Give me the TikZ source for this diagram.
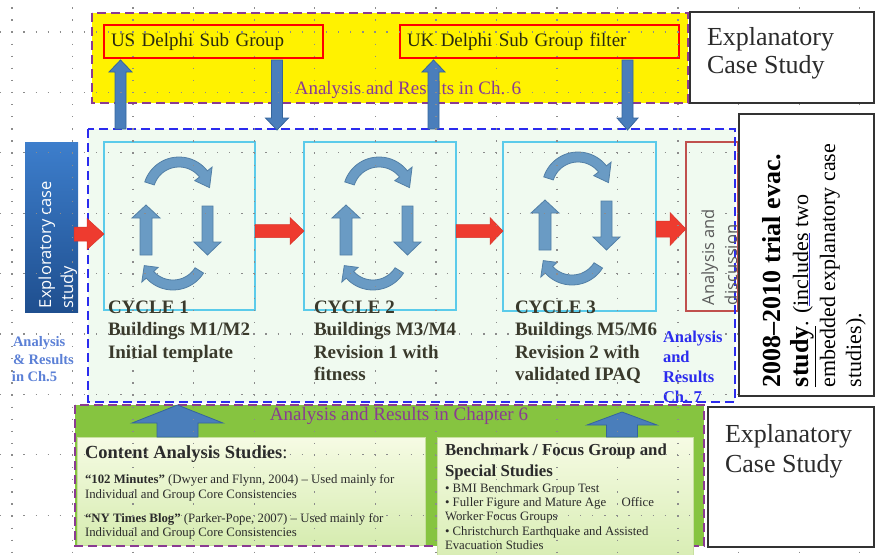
\documentclass[tikz,border=0pt]{standalone}
\usepackage{fontspec}
\setmainfont{Liberation Serif}
\newfontfamily\osans{Open Sans}
\usetikzlibrary{calc}

\definecolor{mint}{HTML}{F0FAF0}
\definecolor{dpurple}{HTML}{8A3B92}
\definecolor{dblue}{HTML}{2B2BEE}
\definecolor{olivetext}{HTML}{2A2A10}
\definecolor{cycborder}{HTML}{5BCBEA}
\definecolor{adred}{HTML}{C0504D}
\definecolor{grass}{HTML}{86C440}
\definecolor{litetop}{HTML}{F6FBE4}
\definecolor{litebot}{HTML}{D6ECB0}
\definecolor{liteedge}{HTML}{C8E0A0}
\definecolor{steelfill}{HTML}{4A7EBB}
\definecolor{steeledge}{HTML}{35659C}
\definecolor{arrred}{HTML}{EE3B2F}
\definecolor{arrrededge}{HTML}{D8342A}
\definecolor{cycfill}{HTML}{6A9BC4}
\definecolor{cycedge}{HTML}{527FA6}
\definecolor{gridgray}{HTML}{8C8C8C}
\definecolor{explTop}{HTML}{3D7ECC}
\definecolor{explBot}{HTML}{1F4F8F}
\definecolor{adgray}{HTML}{5A5A5A}
\definecolor{linkblue}{HTML}{3030E0}
\definecolor{ch5blue}{HTML}{5B80D6}
\definecolor{cyctext}{HTML}{3A3A2C}
\definecolor{boxtext}{HTML}{2B2B2B}

\newcommand\fsz[2]{\fontsize{#1}{#2}\selectfont}

% horizontal block arrow: style, tail, tip, shaft half width, head half width, head length
\newcommand\hblk[6]{\filldraw[#1] ($(#2)+(0,-#4)$) -- ($(#3)+(-#6,-#4)$) -- ($(#3)+(-#6,-#5)$) -- (#3)
  -- ($(#3)+(-#6,#5)$) -- ($(#3)+(-#6,#4)$) -- ($(#2)+(0,#4)$) -- cycle;}
% vertical block arrow: style, tail, tip, shaft half width, head half width, signed head length
\newcommand\vblk[6]{\filldraw[#1] ($(#2)+(-#4,0)$) -- ($(#3)+(-#4,#6)$) -- ($(#3)+(-#5,#6)$) -- (#3)
  -- ($(#3)+(#5,#6)$) -- ($(#3)+(#4,#6)$) -- ($(#2)+(#4,0)$) -- cycle;}
% curved arrow: cx, cy, mid radius, start angle, end angle, tip angle
\newcommand\ringarrow[6]{%
  \filldraw[cycarrow] plot[domain=#4:#5,samples=24] ({#1+(#3+5)*cos(\x)},{#2+(#3+5)*sin(\x)})
   -- ({#1+(#3+11)*cos(#5)},{#2+(#3+11)*sin(#5)})
   -- ({#1+#3*cos(#6)},{#2+#3*sin(#6)})
   -- ({#1+(#3-11)*cos(#5)},{#2+(#3-11)*sin(#5)})
   -- plot[domain=#5:#4,samples=24] ({#1+(#3-5)*cos(\x)},{#2+(#3-5)*sin(\x)}) -- cycle;}
% the four arrows of one cycle
\newcommand\cyclegroup{%
  \ringarrow{179}{193}{31}{198}{322}{350}
  \ringarrow{173}{254}{31}{32}{138}{158}
  \filldraw[cycarrow] (140,255) -- (140,218) -- (132,218) -- (146,205) -- (160,218) -- (152,218) -- (152,255) -- cycle;
  \filldraw[cycarrow] (202,206) -- (213,206) -- (213,242) -- (221,242) -- (207.5,255) -- (194,242) -- (202,242) -- cycle;
}

\begin{document}
\begin{tikzpicture}[x=1pt,y=-1pt,
  boxat/.style={inner sep=0pt,outer sep=0pt,anchor=north west},
  pdash/.style={draw=dpurple,line width=2.3pt,dash pattern=on 9pt off 5pt},
  bdash/.style={draw=dblue,line width=2.3pt,dash pattern=on 9pt off 5pt},
  redbox/.style={boxat,draw=red,line width=1.7pt,minimum height=33pt,inner xsep=7pt,align=left,text=olivetext,font=\fsz{19}{22}},
  cycbox/.style={boxat,draw=cycborder,line width=1.2pt,minimum height=168pt},
  whitebox/.style={boxat,draw=black!80,fill=white,line width=1.3pt},
  litebox/.style={boxat,draw=liteedge,line width=0.6pt,top color=litetop,bottom color=litebot},
  steel/.style={fill=steelfill,draw=steeledge,line width=0.8pt},
  redarr/.style={fill=arrred,draw=arrrededge,line width=0.5pt},
  cycarrow/.style={fill=cycfill,draw=cycedge,line width=0.8pt},
  txt/.style={inner sep=0pt,outer sep=0pt,anchor=base west},
  vtxt/.style={txt,rotate=90},
  griddots/.style={draw=gridgray,line width=1.3pt,dash pattern=on 1.3pt off 10.8pt},
]
\useasboundingbox (0,0) rectangle (875,554);

% main study frame
\node[boxat,fill=mint,minimum width=647pt,minimum height=273pt] (main) at (88,129) {};

% Delphi band
\node[boxat,fill=yellow,minimum width=596pt,minimum height=90pt] (ylw) at (92,13) {};
\draw[pdash] (ylw.north west) rectangle (ylw.south east);
\node[redbox,text width=205pt] (usg) at (104,25) {US Delphi Sub Group};
\node[redbox,text width=265pt] (ukg) at (400,25) {UK Delphi Sub Group filter};
\node[text=dpurple,font=\fsz{19}{22},inner sep=0pt] (res6) at (408,90) {Analysis and Results in Ch. 6};

% chapter 6 studies band
\node[boxat,fill=grass,minimum width=629pt,minimum height=141pt] (grn) at (75,405) {};
\node[litebox,minimum width=348pt,minimum height=108pt] (cas) at (77,437) {};
\draw[pdash] (grn.north west) rectangle (grn.south east);
\node[litebox,minimum width=256pt,minimum height=130pt] (bfs) at (437,437) {};
\node[text=dpurple,font=\fsz{19}{22},inner sep=0pt] (res6b) at (399,416) {Analysis and Results in Chapter 6};

% cycles
\node[cycbox,minimum width=151pt] (c1) at (104,142) {};
\node[cycbox,minimum width=152pt] (c2) at (304,142) {};
\node[cycbox,minimum width=153pt,minimum height=169pt] (c3) at (503,142) {};
\node[boxat,draw=adred,line width=1.3pt,minimum width=52pt,minimum height=169pt] (ad) at (686,142) {};
\draw[bdash] (main.north west) rectangle (main.south east);

\node[boxat,top color=explTop,bottom color=explBot,minimum width=53pt,minimum height=170pt] (expl) at (25,142) {};

\begin{scope}\cyclegroup\end{scope}
\begin{scope}[shift={(200,0)}]\cyclegroup\end{scope}
\begin{scope}[shift={(399,-5)}]\cyclegroup\end{scope}

% flow between cycles
\coordinate (ry1) at (0,234);
\coordinate (ry2) at (0,231);
\coordinate (ry4) at (0,229);
\coordinate (r1s) at ($(expl.east |- ry1)+(-4,0)$);
\coordinate (r1e) at (c1.west |- ry1);
\hblk{redarr}{r1s}{r1e}{7}{15.5}{17}
\coordinate (r2s) at (c1.east |- ry2);
\coordinate (r2e) at (c2.west |- ry2);
\hblk{redarr}{r2s}{r2e}{6.5}{13.5}{14}
\coordinate (r3s) at (c2.east |- ry2);
\coordinate (r3e) at (c3.west |- ry2);
\hblk{redarr}{r3s}{r3e}{6.5}{13.5}{13}
\coordinate (r4s) at (c3.east |- ry4);
\coordinate (r4e) at (ad.west |- ry4);
\hblk{redarr}{r4s}{r4e}{8}{16.5}{16}

% exchanges with the Delphi groups
\coordinate (xa) at (120.5,0);
\coordinate (xb) at (277,0);
\coordinate (xc) at (433.5,0);
\coordinate (xd) at (627.5,0);
\coordinate (ua0) at (main.north -| xa);
\coordinate (ua1) at ($(usg.south -| xa)+(0,2)$);
\vblk{steel}{ua0}{ua1}{5.5}{11.5}{12}
\coordinate (da0) at ($(usg.south -| xb)+(0,2)$);
\coordinate (da1) at ($(main.north -| xb)+(0,1)$);
\vblk{steel}{da0}{da1}{5.5}{11.5}{-12}
\coordinate (ub0) at (main.north -| xc);
\coordinate (ub1) at ($(ukg.south -| xc)+(0,2)$);
\vblk{steel}{ub0}{ub1}{5.5}{11.5}{12}
\coordinate (db0) at ($(ukg.south -| xd)+(0,2)$);
\coordinate (db1) at ($(main.north -| xd)+(0,1)$);
\vblk{steel}{db0}{db1}{5.5}{10.5}{-12}

% studies feeding the cycles
\coordinate (xe) at (177.5,0);
\coordinate (xf) at (622,0);
\coordinate (ba0) at (cas.north -| xe);
\coordinate (ba1) at (grn.north -| xe);
\vblk{steel}{ba0}{ba1}{20.5}{45.5}{18}
\coordinate (bb0) at (bfs.north -| xf);
\coordinate (bb1) at ($(grn.north -| xf)+(0,7)$);
\vblk{steel}{bb0}{bb1}{15.5}{35}{13}

% rotated labels
\node[vtxt,text=white,font=\osans\fsz{16.5}{20}] (ex1) at (51,308) {Exploratory case};
\node[vtxt,text=white,font=\osans\fsz{16.5}{20}] (ex2) at (73,308) {study};
\node[vtxt,text=adgray,font=\osans\fsz{16.5}{20}] (ad1) at (714,305) {Analysis and};
\node[vtxt,text=adgray,font=\osans\fsz{16.5}{20}] (ad2) at (737,305) {discussion};

% cycle captions
\begin{scope}[every node/.style={txt,text=cyctext,font=\bfseries\fsz{19}{22}}]
\node (k1a) at (108,313) {CYCLE 1};
\node (k1b) at (108,335.5) {Buildings M1/M2};
\node (k1c) at (108,358) {Initial template};
\node (k2a) at (314,313) {CYCLE 2};
\node (k2b) at (314,335.5) {Buildings M3/M4};
\node (k2c) at (314,358) {Revision 1 with};
\node (k2d) at (314,380.5) {fitness};
\node (k3a) at (515,313) {CYCLE 3};
\node (k3b) at (515,335.5) {Buildings M5/M6};
\node (k3c) at (515,358) {Revision 2 with};
\node (k3d) at (515,380.5) {validated IPAQ};
\end{scope}

\begin{scope}[every node/.style={txt,text=ch5blue,font=\bfseries\fsz{14.5}{18}}]
\node (a5a) at (13,346) {Analysis};
\node (a5b) at (13,364) {\& Results};
\node (a5c) at (12,381) {in Ch.5};
\end{scope}
\begin{scope}[every node/.style={txt,text=dblue,font=\bfseries\fsz{16.5}{20}}]
\node (a7a) at (663,342) {Analysis};
\node (a7b) at (663,362) {and};
\node (a7c) at (663,382) {Results};
\node (a7d) at (663,402) {Ch. 7};
\end{scope}

% study descriptions
\begin{scope}[every node/.style={txt,text=boxtext,font=\fsz{12.8}{15}}]
\node[font=\fsz{18.5}{22}] (ca1) at (85,458) {{\bfseries Content Analysis Studies}:};
\node (ca2) at (85,483) {{\bfseries “102 Minutes”} (Dwyer and Flynn, 2004) – Used mainly for};
\node (ca3) at (85,498) {Individual and Group Core Consistencies};
\node (ca4) at (85,522) {{\bfseries “NY Times Blog”} (Parker-Pope, 2007) – Used mainly for};
\node (ca5) at (85,536) {Individual and Group Core Consistencies};
\node[font=\bfseries\fsz{16.8}{20}] (bf1) at (445,455) {Benchmark / Focus Group and};
\node[font=\bfseries\fsz{16.8}{20}] (bf2) at (445,476) {Special Studies};
\node (bf3) at (445,492) {• BMI Benchmark Group Test};
\node (bf4) at (445,506) {• Fuller Figure and Mature Age\hspace{1.2em}Office};
\node (bf5) at (445,520) {Worker Focus Groups};
\node (bf6) at (445,535) {• Christchurch Earthquake and Assisted};
\node (bf7) at (445,549) {Evacuation Studies};
\end{scope}

% layout grid
\foreach \i in {0,...,14}{\draw[griddots] ({12+60.55*\i},-4.9) -- ({12+60.55*\i},560);}
\foreach \j in {0,...,8}{\draw[griddots] (-0.76,{32+60.4*\j}) -- (880,{32+60.4*\j});}

% case study classification boxes
\node[whitebox,minimum width=184pt,minimum height=91pt] (exTop) at (690,12) {};
\node[whitebox,minimum width=135pt,minimum height=282pt] (trial) at (739,114) {};
\node[whitebox,minimum width=166pt,minimum height=140pt] (exBot) at (708,407) {};

\begin{scope}[every node/.style={txt,text=boxtext,font=\fsz{26}{28}}]
\node (et1) at (707,45) {Explanatory};
\node (et2) at (707,73) {Case Study};
\node (eb1) at (725,442) {Explanatory};
\node (eb2) at (725,472) {Case Study};
\end{scope}

\node[vtxt,font=\bfseries\fsz{26}{28}] (tr1) at (780,387) {2008–2010 trial evac.};
\node[vtxt,font=\fsz{22}{26}] (tr2) at (808,387) {{\bfseries\fsz{26}{28}\underline{study}}. (\textcolor{linkblue}{\underline{\textcolor{black}{includes}}} two};
\node[vtxt,font=\fsz{22}{26}] (tr3) at (835,387) {embedded explanatory case};
\node[vtxt,font=\fsz{22}{26}] (tr4) at (861,387) {studies).};
\end{tikzpicture}
\end{document}
